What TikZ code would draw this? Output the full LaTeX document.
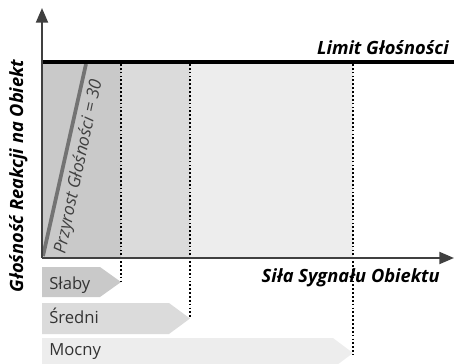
\documentclass[tikz,border=0pt]{standalone}
\usepackage{fontspec}
\setmainfont{Open Sans}
\usetikzlibrary{arrows.meta, positioning, calc}
\definecolor{zoneweak}{HTML}{C9C9C9}
\definecolor{zonemid}{HTML}{DBDBDB}
\definecolor{zonestrong}{HTML}{EDEDED}

\begin{document}
\begin{tikzpicture}[
    x=0.75pt, y=-0.75pt,
    axis/.style={-{Triangle[length=11pt, width=9pt]}, line width=1.4pt, black!75},
    limit/.style={line width=3.4pt, black},
    marker/.style={line width=1.3pt, dash pattern=on 1.3pt off 1.6pt, black},
    slope/.style={line width=2.8pt, black!55},
    tag/.style={font=\fontsize{12.5}{14}\selectfont, text=black!80, anchor=base west, inner sep=0pt},
    axislabel/.style={font=\fontsize{13.7}{15}\selectfont\bfseries\itshape, inner sep=0pt}
]

\useasboundingbox (0,0) rectangle (454,364);
\clip (0,0) rectangle (454,364);

% Zones
\fill[zoneweak] (42,64) rectangle (121,258);
\fill[zonemid] (121,64) rectangle (190,258);
\fill[zonestrong] (190,64) rectangle (353,258);

% Signal strength tags
\fill[zoneweak] (42,267) -- (100,267) -- (121,282) -- (100,297) -- (42,297) -- cycle;
\fill[zonemid] (42,303) -- (169,303) -- (190,318.5) -- (169,334) -- (42,334) -- cycle;
\fill[zonestrong] (42,338) -- (333,338) -- (353,353) -- (333,368) -- (42,368) -- cycle;
\node[tag] (weak) at (49,289) {Słaby};
\node[tag] (mid) at (49,323) {Średni};
\node[tag] (strong) at (49,355) {Mocny};

% Coordinates
\coordinate (O) at (42,258);
\coordinate (ytop) at (42,8);
\coordinate (xend) at (454,258);
\coordinate (limL) at (42,62);
\coordinate (limR) at (454,62);
\coordinate (s0) at (43,256);
\coordinate (s1) at (86,64);

% Boundaries
\draw[marker] (121,64) -- (121,283);
\draw[marker] (190,64) -- (190,319);
\draw[marker] (353,64) -- (353,355);

% Gain line
\draw[slope] (s0) -- (s1);
\node[font=\fontsize{13}{15}\selectfont\itshape, text=black!75, inner sep=0pt,
      rotate=78, anchor=base west] (gain) at (65,255) {Przyrost Głośności = 30};

% Limit
\draw[limit] (limL) -- (limR);
\node[axislabel, anchor=base east] (limit) at (449,55) {Limit Głośności};

% Axes
\draw[axis] (O) -- (ytop);
\draw[axis] (O) -- (xend);
\node[axislabel, anchor=base east] (xlabel) at (440,282) {Siła Sygnału Obiektu};
\node[axislabel, rotate=90, anchor=base] (ylabel) at (23,176) {Głośność Reakcji na Obiekt};

\end{tikzpicture}
\end{document}
